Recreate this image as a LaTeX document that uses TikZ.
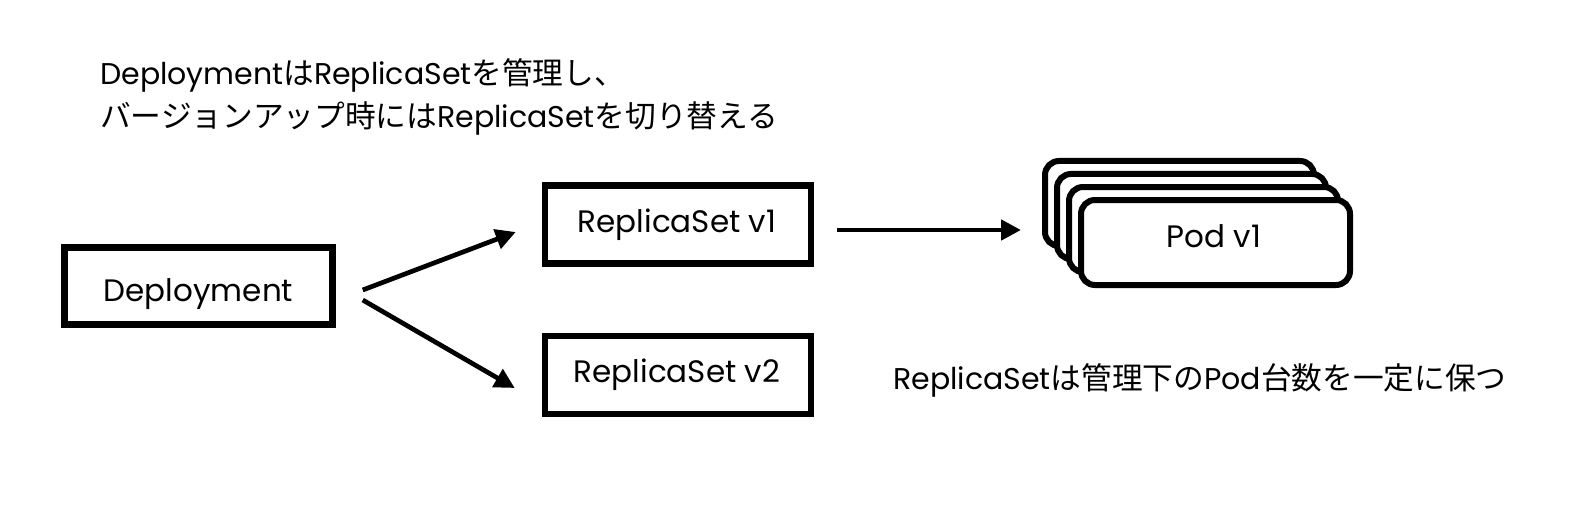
\documentclass[tikz,border=0pt]{standalone}
\usepackage{fontspec}
\setmainfont{Noto Sans CJK JP}
\newfontfamily\lat{Poppins}
\usetikzlibrary{arrows.meta}
\begin{document}
\begin{tikzpicture}[x=1pt,y=-1pt,
  box/.style={draw=black,line width=6.5pt,fill=white,inner sep=0pt,minimum width=266pt,minimum height=78pt},
  podbox/.style={draw=black,line width=6pt,fill=white,rounded corners=14pt,inner sep=0pt,minimum width=269pt,minimum height=85pt},
  lbl/.style={anchor=base,inner sep=0pt,font=\fontsize{31}{34}\selectfont\lat},
  arr/.style={line width=4.7pt,-{Triangle[length=20pt,width=20pt]}},
  note/.style={anchor=base west,inner sep=0pt,font=\fontsize{30.7}{34}\selectfont}]
\useasboundingbox[fill=white] (0,0) rectangle (1572,508);
\node[note] (t1) at (100,85) {{\lat\fontsize{30}{34}\selectfont Deployment}は{\lat\fontsize{30}{34}\selectfont ReplicaSet}を管理し、};
\node[note] (t2) at (100,128) {バージョンアップ時には{\lat\fontsize{30}{34}\selectfont ReplicaSet}を切り替える};
\node[box, minimum width=268pt, minimum height=77pt] (dep) at (198.5,286) {};
\node[lbl] at (198.5,301) {Deployment};
\node[box] (rs1) at (678,224.5) {};
\node[lbl] at (677,232) {ReplicaSet v1};
\node[box] (rs2) at (678,375) {};
\node[lbl] at (677,382) {ReplicaSet v2};
\node[podbox] (p1) at (1179.5,203.5) {};
\node[podbox] (p2) at (1191.5,216.5) {};
\node[podbox] (p3) at (1203.5,229.5) {};
\node[podbox] (p4) at (1215.5,242.5) {};
\node[lbl] at (1214,247) {Pod v1};
\node[note] (t3) at (893,389) {{\lat\fontsize{30}{34}\selectfont ReplicaSet}は管理下の{\lat\fontsize{30}{34}\selectfont Pod}台数を一定に保つ};
\coordinate (a1s) at ([xshift=27,yshift=-4]dep.east);
\coordinate (a2s) at ([xshift=27,yshift=-14]dep.east);
\coordinate (a1e) at ([xshift=-26,yshift=-7.5]rs1.west);
\coordinate (a2e) at ([xshift=-27,yshift=-13]rs2.west);
\draw[arr] (a1s) -- (a1e);
\draw[arr] (a2s) -- (a2e);
\draw[arr] ([xshift=23,yshift=-5.5]rs1.east) -- ([xshift=-21,yshift=-5.5]rs1.east -| p1.west);
\end{tikzpicture}
\end{document}
